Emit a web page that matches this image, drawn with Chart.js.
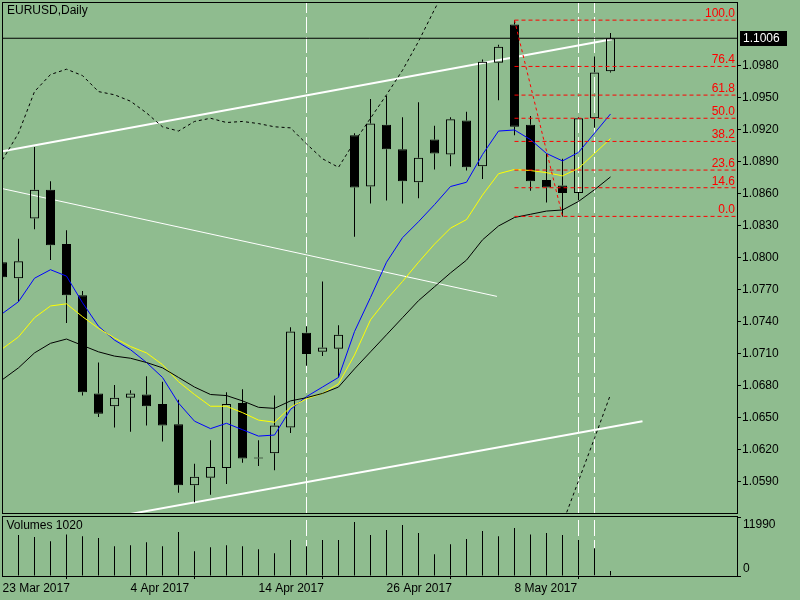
<!DOCTYPE html>
<html>
<head>
<meta charset="utf-8">
<title>EURUSD Daily</title>
<script src="https://cdn.jsdelivr.net/npm/chart.js@4.4.1/dist/chart.umd.min.js"></script>
<style>
body { margin: 0; background: #8FBC8F; }
#wrap { position: relative; width: 800px; height: 600px; overflow: hidden; }
canvas { position: absolute; left: 0; }
</style>
</head>
<body>
<div id="wrap">
<canvas id="priceChart" width="800" height="515" style="top:0"></canvas>
<canvas id="volumeChart" width="800" height="95" style="top:505px"></canvas>
</div>
<script>
// EURUSD daily bars, index 0 = 23 Mar 2017, last = 16 May 2017
const symbol = 'EURUSD';
const period = 'Daily';

const opens  = [1.0796,1.0781,1.0837,1.0864,1.0813,1.0765,1.0673,1.0661,1.0669,1.0672,1.0663,1.0644,1.0587,1.0594,1.0603,1.0664,1.0613,1.0617,1.0641,1.0730,1.0712,1.0715,1.0915,1.0867,1.0925,1.0902,1.0871,1.0911,1.0897,1.0929,1.0886,1.0983,1.1019,1.0925,1.0873,1.0868,1.0861,1.0931,1.0975];
const highs  = [1.0800,1.0818,1.0904,1.0872,1.0826,1.0769,1.0702,1.0681,1.0676,1.0689,1.0684,1.0667,1.0607,1.0629,1.0674,1.0677,1.0629,1.0671,1.0735,1.0736,1.0778,1.0737,1.0917,1.0949,1.0952,1.0932,1.0946,1.0924,1.0932,1.0937,1.0986,1.1000,1.1023,1.0933,1.0898,1.0893,1.0932,1.0989,1.1011];
const lows   = [1.0778,1.0759,1.0827,1.0798,1.0739,1.0671,1.0651,1.0641,1.0637,1.0643,1.0628,1.0580,1.0571,1.0578,1.0588,1.0608,1.0605,1.0601,1.0636,1.0699,1.0708,1.0688,1.0820,1.0851,1.0854,1.0851,1.0856,1.0883,1.0886,1.0882,1.0874,1.0948,1.0915,1.0863,1.0852,1.0839,1.0854,1.0922,1.0974];
const closes = [1.0782,1.0797,1.0864,1.0812,1.0765,1.0674,1.0654,1.0669,1.0673,1.0661,1.0643,1.0587,1.0595,1.0604,1.0663,1.0612,1.0612,1.0643,1.0731,1.0710,1.0716,1.0728,1.0866,1.0926,1.0902,1.0872,1.0894,1.0898,1.0930,1.0885,1.0984,1.0998,1.0923,1.0872,1.0866,1.0861,1.0931,1.0974,1.1006];
const volumes = [8000,8410,8000,7170,8540,8200,7790,6140,6340,6960,6140,9030,5100,5930,6340,6140,5520,4690,7380,6140,7380,7380,11100,8410,9450,10480,8830,4490,6550,7590,9240,8200,9860,8540,8830,8410,7380,5730,1020];

// moving averages
const maBlue   = [1.0748,1.0759,1.0781,1.0789,1.0783,1.0758,1.0736,1.0723,1.0714,1.0702,1.0688,1.0664,1.0647,1.0640,1.0645,1.0639,1.0633,1.0634,1.0658,1.0670,1.0679,1.0688,1.0731,1.0763,1.0796,1.0819,1.0834,1.0850,1.0867,1.0871,1.0897,1.0919,1.0920,1.0911,1.0898,1.0891,1.0899,1.0917,1.0935];
const maYellow = [1.0715,1.0726,1.0744,1.0755,1.0757,1.0745,1.0734,1.0725,1.0717,1.0711,1.0700,1.0684,1.0672,1.0661,1.0661,1.0655,1.0648,1.0646,1.0660,1.0668,1.0673,1.0682,1.0709,1.0742,1.0761,1.0778,1.0796,1.0813,1.0828,1.0836,1.0859,1.0879,1.0883,1.0882,1.0880,1.0877,1.0884,1.0898,1.0912];
const maBlack  = [1.0686,1.0697,1.0711,1.0720,1.0724,1.0718,1.0712,1.0708,1.0706,1.0702,1.0697,1.0688,1.0679,1.0672,1.0671,1.0666,1.0660,1.0659,1.0666,1.0669,1.0673,1.0679,1.0696,1.0712,1.0728,1.0744,1.0760,1.0773,1.0786,1.0798,1.0817,1.0830,1.0838,1.0841,1.0844,1.0845,1.0853,1.0864,1.0876];
const dotUpper = [1.0892,1.0917,1.0956,1.0972,1.0977,1.0971,1.0956,1.0953,1.0947,1.0936,1.0923,1.0919,1.0928,1.0931,1.0927,1.0928,1.0926,1.0923,1.0922,1.0907,1.0893,1.0885,1.0909,1.0931,1.0953,1.0976,1.1003,1.1033,1.1061,null,null,null,null,null,null,null,null,null,null];
const dotLower = [null,null,null,null,null,null,null,null,null,null,null,null,null,null,null,null,null,null,null,null,null,null,null,null,null,null,null,null,null,null,null,null,null,null,null,1.0551,1.0591,1.0631,1.0672];

// drawn objects: [bar index, price]
const channelTop    = [[0, 1.0900], [38.1, 1.1005]];
const channelBottom = [[8, 1.0560], [40.0, 1.0647]];
const midLine       = [[0, 1.0865], [30.9, 1.0764]];
const vLineIdx = [19, 36, 37];
const fibLevels = [0, 14.6, 23.6, 38.2, 50.0, 61.8, 76.4, 100.0];
const fibFrom = 32, fibTo = 35;

// axes
const priceTicks = [1.0590,1.0620,1.0650,1.0680,1.0710,1.0740,1.0770,1.0800,1.0830,1.0860,1.0890,1.0920,1.0950,1.0980];
const volTicks = [0, 11990];
const dateTickIdx = [0, 8, 16, 24, 32];
const dateTickLabels = ['23 Mar 2017', '4 Apr 2017', '14 Apr 2017', '26 Apr 2017', '8 May 2017'];

const GREEN = '#8FBC8F';
const FONT = '12px "Liberation Sans", Arial, sans-serif';
const last = closes.length - 1;
const xMin = 0, xMax = 45.906;
const yMin = 1.05609, yMax = 1.1040;
const volMax = 12340;

const fibHigh = highs[fibFrom], fibLow = lows[fibTo];
const fibPrice = r => fibLow + r / 100 * (fibHigh - fibLow);

const pts = arr => arr.map((v, i) => ({ x: i, y: v })).filter(p => p.y !== null);
const seg = arr => arr.map(p => ({ x: p[0], y: p[1] }));

function line(data, color, width, dash, order) {
  return { type: 'line', data, borderColor: color, borderWidth: width, borderDash: dash || [],
           pointRadius: 0, tension: 0, fill: false, order, clip: 0 };
}
function bars(data, color, thick, order, extra) {
  return Object.assign({ type: 'bar', data, backgroundColor: color, barThickness: thick, grouped: false,
           borderWidth: 0, inflateAmount: 0, borderSkipped: false, order }, extra || {});
}
// keep the plot area exactly where the layout puts it
function fixWidth(s) { s.width = 63; s.paddingTop = 0; s.paddingBottom = 0; }

// candles: wicks split above/below the body so hollow bodies stay empty
const wickUp = opens.map((o, i) => ({ x: i, y: [Math.max(o, closes[i]), highs[i]] }));
const wickDn = opens.map((o, i) => ({ x: i, y: [lows[i], Math.min(o, closes[i])] }));
const bodies = opens.map((o, i) => ({ x: i, y: [o, closes[i]] }));
const bodyFill = opens.map((o, i) => closes[i] > o ? 'rgba(0,0,0,0)' : '#000');

const priceSets = [];
vLineIdx.forEach(v => priceSets.push(line([{ x: v, y: yMin }, { x: v, y: yMax }], '#fff', 1, [16, 4], 30)));
priceSets.push(line(seg(channelTop), '#fff', 2, [], 29));
priceSets.push(line(seg(channelBottom), '#fff', 2, [], 29));
priceSets.push(line(seg(midLine), '#fff', 1, [], 29));
priceSets.push(line([{ x: xMin, y: closes[last] }, { x: xMax, y: closes[last] }], '#000', 1, [], 28));
priceSets.push(bars(wickUp, '#000', 1, 20));
priceSets.push(bars(wickDn, '#000', 1, 20));
priceSets.push(bars(bodies, bodyFill, 9, 19, { borderColor: '#000', borderWidth: 1, minBarLength: 1 }));
priceSets.push(line(pts(maBlack), '#000', 1, [], 5));
priceSets.push(line(pts(maYellow), '#FFFF00', 1, [], 5));
priceSets.push(line(pts(maBlue), '#0000FF', 1, [], 5));
priceSets.push(line(pts(dotUpper), '#000', 1, [3, 3], 5));
priceSets.push(line(pts(dotLower), '#000', 1, [3, 3], 5));
fibLevels.forEach(r => priceSets.push(line([{ x: fibFrom, y: fibPrice(r) }, { x: xMax, y: fibPrice(r) }], '#FF0000', 1, [4, 3], 2)));
priceSets.push(line([{ x: fibFrom, y: fibHigh }, { x: fibTo, y: fibLow }], '#FF0000', 1, [3, 3], 2));

const priceDecor = {
  id: 'priceDecor',
  afterDatasetsDraw(chart) {
    const { ctx, chartArea: a, scales: { y } } = chart;
    ctx.save();
    ctx.strokeStyle = '#000';
    ctx.lineWidth = 1;
    ctx.strokeRect(Math.floor(a.left) + 0.5, Math.floor(a.top) + 0.5, Math.round(a.right - a.left), Math.round(a.bottom - a.top));
    ctx.font = FONT;
    ctx.fillStyle = '#000';
    ctx.textBaseline = 'top';
    ctx.textAlign = 'left';
    ctx.fillText(symbol + ',' + period, a.left + 4.5, a.top + 3);
    ctx.fillStyle = '#FF0000';
    ctx.textAlign = 'right';
    ctx.textBaseline = 'alphabetic';
    fibLevels.forEach(r => ctx.fillText(r.toFixed(1), a.right - 2, y.getPixelForValue(fibPrice(r)) - 3));
    ctx.restore();
  },
  afterDraw(chart) {
    const { ctx, chartArea: a, scales: { y } } = chart;
    const yy = Math.round(y.getPixelForValue(closes[last]));
    ctx.save();
    ctx.fillStyle = '#000';
    ctx.fillRect(a.right + 3, yy - 7, 47, 15);
    ctx.fillStyle = '#fff';
    ctx.font = FONT;
    ctx.textBaseline = 'middle';
    ctx.fillText(closes[last].toFixed(4), a.right + 6, yy + 1);
    ctx.restore();
  }
};

new Chart(document.getElementById('priceChart'), {
  type: 'bar',
  data: { datasets: priceSets },
  options: {
    responsive: false, animation: false, devicePixelRatio: 1, events: [],
    layout: { padding: { left: 2.5, top: 2, right: 0, bottom: 2 } },
    plugins: { legend: { display: false }, tooltip: { enabled: false } },
    scales: {
      x: { type: 'linear', display: false, min: xMin, max: xMax, offset: false },
      y: {
        type: 'linear', position: 'right', min: yMin, max: yMax,
        afterBuildTicks: s => { s.ticks = priceTicks.map(v => ({ value: v })); },
        afterFit: fixWidth,
        ticks: { callback: v => v.toFixed(4), color: '#000', font: { family: '"Liberation Sans", Arial, sans-serif', size: 12 }, padding: 1, autoSkip: false },
        grid: { drawOnChartArea: false, tickLength: 4, color: '#000' },
        border: { display: true, color: '#000' }
      }
    }
  },
  plugins: [priceDecor]
});

// volume pane
const volSets = [];
vLineIdx.forEach(v => volSets.push(line([{ x: v, y: 0 }, { x: v, y: volMax }], '#fff', 1, [16, 4], 30)));
volSets.push(bars(pts(volumes), '#000', 1, 10));

const volDecor = {
  id: 'volDecor',
  afterDatasetsDraw(chart) {
    const { ctx, chartArea: a, scales: { y } } = chart;
    ctx.save();
    ctx.strokeStyle = '#000';
    ctx.lineWidth = 1;
    ctx.strokeRect(Math.floor(a.left) + 0.5, Math.floor(a.top) + 0.5, Math.round(a.right - a.left), Math.round(a.bottom - a.top));
    ctx.font = FONT;
    ctx.fillStyle = '#000';
    ctx.textAlign = 'left';
    ctx.textBaseline = 'top';
    ctx.fillText('Volumes ' + volumes[last], a.left + 4, a.top + 4);
    ctx.fillText(String(volTicks[1]), a.right + 6, y.getPixelForValue(volTicks[1]) + 0.5);
    ctx.textBaseline = 'bottom';
    ctx.fillText(String(volTicks[0]), a.right + 6, y.getPixelForValue(volTicks[0]) - 1);
    ctx.restore();
  }
};

new Chart(document.getElementById('volumeChart'), {
  type: 'bar',
  data: { datasets: volSets },
  options: {
    responsive: false, animation: false, devicePixelRatio: 1, events: [],
    layout: { padding: { left: 2.5, top: 11, right: 0, bottom: 0 } },
    plugins: { legend: { display: false }, tooltip: { enabled: false } },
    scales: {
      x: {
        type: 'linear', position: 'bottom', min: xMin, max: xMax, offset: false,
        afterBuildTicks: s => { s.ticks = dateTickIdx.map(v => ({ value: v })); },
        afterFit: s => { s.height = 24; },
        ticks: { callback: (v, i) => dateTickLabels[i], align: 'start', maxRotation: 0, autoSkip: false,
                 color: '#000', font: { family: '"Liberation Sans", Arial, sans-serif', size: 12 }, padding: 2 },
        grid: { drawOnChartArea: false, tickLength: 3, color: '#000' },
        border: { display: true, color: '#000' }
      },
      y: {
        type: 'linear', position: 'right', min: 0, max: volMax,
        afterBuildTicks: s => { s.ticks = volTicks.map(v => ({ value: v })); },
        afterFit: fixWidth,
        ticks: { callback: () => '', autoSkip: false },
        grid: { drawOnChartArea: false, tickLength: 4, color: '#000' },
        border: { display: true, color: '#000' }
      }
    }
  },
  plugins: [volDecor]
});
</script>
</body>
</html>
